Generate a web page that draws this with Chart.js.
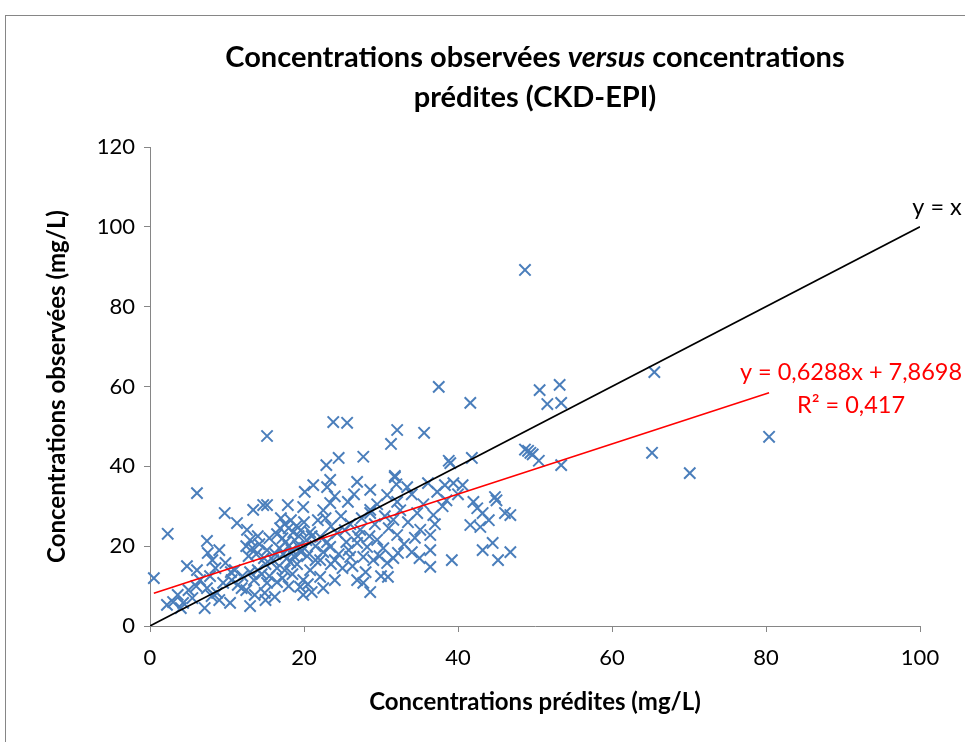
<!DOCTYPE html>
<html>
<head>
<meta charset="utf-8">
<script src="https://cdn.jsdelivr.net/npm/chart.js@4.4.1/dist/chart.umd.min.js"></script>
<style>
  html, body { margin: 0; padding: 0; background: #fff; }
  #wrap { width: 965px; height: 742px; }
</style>
</head>
<body>
<div id="wrap"><canvas id="chart"></canvas></div>
<script>
const predicted = [
  0.5, 2.3, 6.1, 9.7, 15.2, 23.8, 25.6, 32.1, 31.3, 35.6, 22.9, 24.5, 27.7, 37.5, 41.6, 50.6, 51.6, 53.4, 53.2, 48.7,
  65.5, 65.2, 70.1, 80.4, 38.8, 41.8, 48.7, 49.1, 49.4, 49.7, 50.5, 53.4, 31.8, 39.0,
  2.2, 3.6, 4.3, 7.1, 4.8, 6.1, 7.4, 7.5, 8.1, 6.5, 7.4, 8.7, 9.5, 10.4, 10.6, 11.4, 11.9, 11.3, 12.6, 13.4,
  14.7, 5.5, 8.0, 9.0, 6.0, 3.0, 8.5, 9.0, 9.8, 10.5, 7.8, 5.0, 11.0, 12.0, 4.0,
  13.0, 13.6, 14.9, 12.8, 13.3, 13.8, 14.2, 14.8, 15.2, 12.5, 13.0, 14.0, 15.5, 15.0, 14.0, 13.0, 15.2, 15.5, 16.2, 15.0,
  12.5, 13.5, 14.5, 16.0, 16.3,
  15.2, 17.9, 19.9, 17.0, 17.5, 18.0, 18.3, 18.6, 19.0, 19.3, 19.6, 20.0, 20.3, 17.2, 17.6, 18.0, 18.4, 18.8, 19.2, 19.6,
  20.0, 20.4, 16.8, 17.3, 17.8, 18.2, 18.7, 19.1, 16.5, 16.9, 21.0, 21.5, 20.8, 16.5, 17.5, 19.9, 19.5, 19.9, 20.8, 22.1,
  21.5, 22.1, 22.1, 23.4, 24.3, 21.2, 20.1, 23.0, 23.4, 26.9, 28.6, 23.4, 25.7, 28.6, 16.5, 17.2, 18.5, 20.5, 18.0, 21.0,
  22.5,
  27.3, 26.9, 28.2, 26.0, 27.7, 29.0, 24.0, 26.9, 27.7, 28.6, 25.0, 23.5, 24.5, 25.5, 26.0, 24.8, 22.8, 23.5, 25.3, 27.5,
  29.2, 29.5, 30.3, 24.0, 26.5, 29.5, 22.5, 24.0, 26.3, 28.0, 30.0, 27.0, 25.8, 23.0, 21.8, 22.5, 28.5, 29.8,
  31.8, 33.4, 36.1, 37.3, 38.3, 39.4, 40.6, 30.8, 32.1, 32.5, 34.7, 36.8, 42.0, 42.5, 43.2, 44.8, 46.1, 46.8, 41.6, 42.9,
  28.6, 31.6, 32.1, 35.1, 34.4, 36.4, 32.2, 31.6, 34.0, 36.4, 36.4, 39.2, 30.8, 30.9, 43.2, 44.5, 45.2, 46.8, 33.5, 35.5,
  38.0, 40.0, 37.0, 33.0, 35.0, 32.0, 34.0, 44.0, 45.0, 30.5, 38.5, 31.0
];
const observed = [
  12.0, 23.1, 33.3, 28.3, 47.6, 51.1, 50.9, 49.1, 45.6, 48.4, 40.3, 42.1, 42.4, 59.9, 55.9, 59.1, 55.6, 55.9, 60.4, 89.2,
  63.6, 43.4, 38.3, 47.4, 41.4, 42.1, 44.2, 43.9, 43.4, 43.0, 41.4, 40.3, 37.6, 40.8,
  5.3, 7.8, 5.8, 4.5, 15.0, 14.0, 21.3, 18.3, 16.5, 11.5, 9.5, 8.3, 10.8, 5.8, 11.5, 10.3, 9.5, 25.8, 24.1, 29.1,
  30.3, 7.0, 7.5, 6.5, 10.0, 6.0, 14.5, 19.0, 15.8, 13.5, 12.5, 9.0, 14.0, 12.5, 4.5,
  5.0, 7.8, 8.3, 17.5, 19.5, 18.0, 20.5, 17.0, 19.0, 20.0, 21.5, 22.5, 22.0, 15.5, 14.0, 13.5, 10.8, 12.5, 7.3, 6.5,
  9.0, 11.5, 13.0, 16.5, 18.0,
  30.3, 30.3, 29.8, 27.0, 25.5, 24.5, 26.5, 23.5, 25.0, 22.5, 24.0, 26.0, 21.5, 22.0, 21.0, 20.0, 19.0, 21.5, 20.0, 18.5,
  19.5, 17.5, 19.5, 18.0, 17.0, 16.0, 17.5, 15.5, 23.0, 24.5, 22.5, 20.0, 23.5, 14.5, 14.0, 11.5, 9.8, 7.8, 14.0, 12.3,
  16.5, 16.5, 22.3, 19.8, 23.3, 35.3, 33.6, 34.8, 36.6, 36.1, 34.1, 30.8, 31.1, 28.3, 11.0, 12.0, 13.0, 10.5, 10.0, 8.5,
  9.5,
  24.1, 20.8, 19.8, 17.3, 17.3, 16.5, 11.5, 11.5, 10.8, 8.5, 14.5, 15.5, 18.0, 21.0, 25.5, 27.5, 27.0, 25.0, 24.0, 27.0,
  25.5, 21.6, 19.5, 32.5, 33.0, 30.5, 18.5, 16.5, 15.0, 13.5, 12.5, 22.5, 19.0, 21.0, 26.5, 29.0, 22.5, 17.5,
  37.3, 34.8, 35.8, 33.6, 35.3, 35.8, 35.3, 32.8, 31.1, 29.0, 28.3, 27.8, 31.1, 29.5, 28.3, 32.3, 28.3, 27.8, 25.3, 24.8,
  29.1, 26.6, 22.8, 24.1, 22.1, 22.8, 18.3, 17.0, 18.5, 19.0, 14.8, 16.5, 15.8, 12.3, 19.0, 20.8, 16.5, 18.5, 26.0, 30.5,
  30.0, 33.0, 25.5, 20.5, 17.0, 35.5, 33.0, 26.5, 31.5, 27.5, 31.5, 24.5
];

// linear trend shown on the chart
const trendSlope = 0.6288;
const trendIntercept = 7.8698;
const trendLabel = ["y = 0,6288x + 7,8698", "R² = 0,417"];
const identityLabel = "y = x";

const xTicks = [0, 20, 40, 60, 80, 100];
const yTicks = [0, 20, 40, 60, 80, 100, 120];

const FONT = "Lato, 'Open Sans', sans-serif";
const AXIS_GREY = "#868686";

const points = predicted.map((x, i) => ({ x: x, y: observed[i] }));
const xMin = Math.min(...predicted);
const xMax = Math.max(...predicted);
const trendPts = [xMin, xMax].map(x => ({ x: x, y: trendSlope * x + trendIntercept }));
const identityPts = [xTicks[0], xTicks[xTicks.length - 1]].map(v => ({ x: v, y: v }));

// frame, title (with italic "versus") and line labels
const decorations = {
  id: "decorations",
  beforeDraw(chart) {
    const c = chart.ctx;
    c.save();
    c.fillStyle = "#fff";
    c.fillRect(0, 0, chart.width, chart.height);
    c.strokeStyle = AXIS_GREY;
    c.lineWidth = 1;
    c.strokeRect(5.5, 15.5, chart.width + 10, chart.height + 10);
    c.restore();
  },
  afterDraw(chart) {
    const c = chart.ctx;
    const area = chart.chartArea;
    const xs = chart.scales.x, ys = chart.scales.y;
    c.save();
    c.fillStyle = "#000";
    c.textBaseline = "middle";

    // title line 1, mixed styles
    const cx = (area.left + area.right) / 2;
    const parts = [
      ["Concentrations observées ", "bold"],
      ["versus", "italic bold"],
      [" concentrations", "bold"]
    ];
    let total = 0;
    parts.forEach(p => { c.font = p[1] + " 29px " + FONT; total += c.measureText(p[0]).width; });
    let px = cx - total / 2;
    c.textAlign = "left";
    parts.forEach(p => {
      c.font = p[1] + " 29px " + FONT;
      c.fillText(p[0], px, 58);
      px += c.measureText(p[0]).width;
    });
    c.textAlign = "center";
    c.font = "bold 29px " + FONT;
    c.fillText("prédites (CKD-EPI)", cx, 98);

    // y = x label
    c.font = "23.5px " + FONT;
    c.fillText(identityLabel, xs.getPixelForValue(100) + 17, ys.getPixelForValue(100) - 19);

    // trend equation
    c.fillStyle = "#ff0000";
    c.fillText(trendLabel[0], 851, 372);
    c.fillText(trendLabel[1], 851, 405);
    c.restore();
  }
};

new Chart(document.getElementById("chart"), {
  type: "scatter",
  data: {
    datasets: [
      {
        label: "obs",
        data: points,
        pointStyle: "crossRot",
        pointRadius: 8,
        pointHoverRadius: 8,
        borderColor: "#4a7ebb",
        backgroundColor: "#4a7ebb",
        pointBorderWidth: 2,
        clip: false,
        order: 3
      },
      {
        type: "line",
        label: "y = x",
        data: identityPts,
        borderColor: "#000",
        borderWidth: 1.6,
        pointRadius: 0,
        fill: false,
        order: 1
      },
      {
        type: "line",
        label: "trend",
        data: trendPts,
        borderColor: "#ff0000",
        borderWidth: 1.6,
        pointRadius: 0,
        fill: false,
        order: 2
      }
    ]
  },
  options: {
    responsive: true,
    maintainAspectRatio: false,
    animation: false,
    events: [],
    layout: { padding: { left: 0, right: 45, top: 147, bottom: 0 } },
    plugins: {
      legend: { display: false },
      tooltip: { enabled: false },
      title: { display: false }
    },
    scales: {
      x: {
        type: "linear",
        min: xTicks[0],
        max: xTicks[xTicks.length - 1],
        afterFit: s => { s.height = 116; },
        afterBuildTicks: s => { s.ticks = xTicks.map(v => ({ value: v })); },
        grid: { drawOnChartArea: false, drawTicks: true, tickLength: 6, color: AXIS_GREY },
        border: { color: AXIS_GREY, width: 1 },
        ticks: { color: "#000", font: { family: FONT, size: 22 }, padding: 13, maxRotation: 0 },
        title: {
          display: true,
          text: "Concentrations prédites (mg/L)",
          color: "#000",
          font: { family: FONT, size: 24, weight: "bold" },
          padding: { top: 0, bottom: 25 }
        }
      },
      y: {
        type: "linear",
        min: yTicks[0],
        max: yTicks[yTicks.length - 1],
        afterFit: s => { s.width = 150; },
        afterBuildTicks: s => { s.ticks = yTicks.map(v => ({ value: v })); },
        grid: { drawOnChartArea: false, drawTicks: true, tickLength: 6, color: AXIS_GREY },
        border: { color: AXIS_GREY, width: 1 },
        ticks: { color: "#000", font: { family: FONT, size: 22 }, padding: 9 },
        title: {
          display: true,
          text: "Concentrations observées (mg/L)",
          color: "#000",
          font: { family: FONT, size: 24, weight: "bold" },
          padding: { top: 43, bottom: 0 }
        }
      }
    }
  },
  plugins: [decorations]
});
</script>
</body>
</html>
